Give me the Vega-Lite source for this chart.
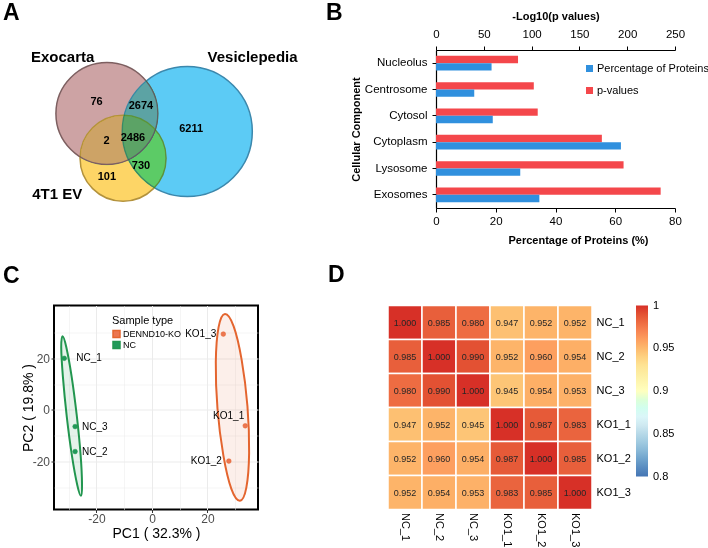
{
  "$schema": "https://vega.github.io/schema/vega-lite/v6.json",
  "padding": {"left": 2, "top": 1, "right": 0, "bottom": 0},
  "config": {
    "font": "Liberation Sans",
    "view": {"stroke": null},
    "axis": {"labelFont": "Liberation Sans", "titleFont": "Liberation Sans", "labelColor": "black", "titleColor": "black"},
    "legend": {"labelFont": "Liberation Sans", "titleFont": "Liberation Sans", "labelColor": "black", "titleColor": "black"},
    "title": {"font": "Liberation Sans", "fontSize": 23, "fontWeight": "bold", "anchor": "start", "frame": "group", "color": "black"}
  },
  "datasets": {
    "venn": [
      {"set": "Exocarta", "cx": 21.0, "cy": 59.8, "total": 5238},
      {"set": "Vesiclepedia", "cx": 52.9, "cy": 48.4, "total": 12101},
      {"set": "4T1 EV", "cx": 27.4, "cy": 31.5, "total": 3319}
    ],
    "vennCounts": [
      {"n": "76", "cx": 16.9, "cy": 67.1},
      {"n": "2674", "cx": 34.5, "cy": 64.6},
      {"n": "6211", "cx": 54.4, "cy": 50.2},
      {"n": "2", "cx": 20.9, "cy": 42.4},
      {"n": "2486", "cx": 31.3, "cy": 44.5},
      {"n": "730", "cx": 34.5, "cy": 26.6},
      {"n": "101", "cx": 21.0, "cy": 19.6}
    ],
    "vennNames": [
      {"name": "Exocarta", "cx": 3.45, "cy": 95.3},
      {"name": "Vesiclepedia", "cx": 78.8, "cy": 95.3},
      {"name": "4T1 EV", "cx": 1.3, "cy": 8.7}
    ],
    "go": [
      {"component": "Nucleolus", "series": "Percentage of Proteins", "value": 18.6},
      {"component": "Nucleolus", "series": "p-values", "value": 85.8},
      {"component": "Centrosome", "series": "Percentage of Proteins", "value": 12.8},
      {"component": "Centrosome", "series": "p-values", "value": 102.3},
      {"component": "Cytosol", "series": "Percentage of Proteins", "value": 19.0},
      {"component": "Cytosol", "series": "p-values", "value": 106.4},
      {"component": "Cytoplasm", "series": "Percentage of Proteins", "value": 61.9},
      {"component": "Cytoplasm", "series": "p-values", "value": 173.5},
      {"component": "Lysosome", "series": "Percentage of Proteins", "value": 28.2},
      {"component": "Lysosome", "series": "p-values", "value": 196.2},
      {"component": "Exosomes", "series": "Percentage of Proteins", "value": 34.6},
      {"component": "Exosomes", "series": "p-values", "value": 235.0}
    ],
    "pca": [
      {"sample": "NC_1", "type": "NC", "pc1": -31.6, "pc2": 20.0},
      {"sample": "NC_3", "type": "NC", "pc1": -27.7, "pc2": -6.5},
      {"sample": "NC_2", "type": "NC", "pc1": -27.7, "pc2": -16.2},
      {"sample": "KO1_3", "type": "DENND10-KO", "pc1": 25.7, "pc2": 29.4},
      {"sample": "KO1_1", "type": "DENND10-KO", "pc1": 33.6, "pc2": -6.2},
      {"sample": "KO1_2", "type": "DENND10-KO", "pc1": 27.7, "pc2": -19.9}
    ],
    "ellipse": [
      {"group": "NC", "i": 0, "pc1": -25.6, "pc2": -33.4},
      {"group": "NC", "i": 1, "pc1": -25.2, "pc2": -29.1},
      {"group": "NC", "i": 2, "pc1": -25.7, "pc2": -17.7},
      {"group": "NC", "i": 3, "pc1": -27.1, "pc2": -2.2},
      {"group": "NC", "i": 4, "pc1": -29.0, "pc2": 13.3},
      {"group": "NC", "i": 5, "pc1": -30.9, "pc2": 24.5},
      {"group": "NC", "i": 6, "pc1": -32.2, "pc2": 28.6},
      {"group": "NC", "i": 7, "pc1": -32.7, "pc2": 24.3},
      {"group": "NC", "i": 8, "pc1": -32.1, "pc2": 12.9},
      {"group": "NC", "i": 9, "pc1": -30.7, "pc2": -2.6},
      {"group": "NC", "i": 10, "pc1": -28.8, "pc2": -18.1},
      {"group": "NC", "i": 11, "pc1": -26.9, "pc2": -29.3},
      {"group": "KO", "i": 0, "pc1": 31.7, "pc2": -35.3},
      {"group": "KO", "i": 1, "pc1": 34.0, "pc2": -30.2},
      {"group": "KO", "i": 2, "pc1": 35.0, "pc2": -16.8},
      {"group": "KO", "i": 3, "pc1": 34.4, "pc2": 1.4},
      {"group": "KO", "i": 4, "pc1": 32.3, "pc2": 19.5},
      {"group": "KO", "i": 5, "pc1": 29.4, "pc2": 32.5},
      {"group": "KO", "i": 6, "pc1": 26.3, "pc2": 37.2},
      {"group": "KO", "i": 7, "pc1": 24.0, "pc2": 32.1},
      {"group": "KO", "i": 8, "pc1": 23.0, "pc2": 18.6},
      {"group": "KO", "i": 9, "pc1": 23.6, "pc2": 0.5},
      {"group": "KO", "i": 10, "pc1": 25.7, "pc2": -17.6},
      {"group": "KO", "i": 11, "pc1": 28.6, "pc2": -30.7}
    ],
    "corr": [
      {"row": "NC_1", "col": "NC_1", "r": 1.000}, {"row": "NC_1", "col": "NC_2", "r": 0.985}, {"row": "NC_1", "col": "NC_3", "r": 0.980}, {"row": "NC_1", "col": "KO1_1", "r": 0.947}, {"row": "NC_1", "col": "KO1_2", "r": 0.952}, {"row": "NC_1", "col": "KO1_3", "r": 0.952},
      {"row": "NC_2", "col": "NC_1", "r": 0.985}, {"row": "NC_2", "col": "NC_2", "r": 1.000}, {"row": "NC_2", "col": "NC_3", "r": 0.990}, {"row": "NC_2", "col": "KO1_1", "r": 0.952}, {"row": "NC_2", "col": "KO1_2", "r": 0.960}, {"row": "NC_2", "col": "KO1_3", "r": 0.954},
      {"row": "NC_3", "col": "NC_1", "r": 0.980}, {"row": "NC_3", "col": "NC_2", "r": 0.990}, {"row": "NC_3", "col": "NC_3", "r": 1.000}, {"row": "NC_3", "col": "KO1_1", "r": 0.945}, {"row": "NC_3", "col": "KO1_2", "r": 0.954}, {"row": "NC_3", "col": "KO1_3", "r": 0.953},
      {"row": "KO1_1", "col": "NC_1", "r": 0.947}, {"row": "KO1_1", "col": "NC_2", "r": 0.952}, {"row": "KO1_1", "col": "NC_3", "r": 0.945}, {"row": "KO1_1", "col": "KO1_1", "r": 1.000}, {"row": "KO1_1", "col": "KO1_2", "r": 0.987}, {"row": "KO1_1", "col": "KO1_3", "r": 0.983},
      {"row": "KO1_2", "col": "NC_1", "r": 0.952}, {"row": "KO1_2", "col": "NC_2", "r": 0.960}, {"row": "KO1_2", "col": "NC_3", "r": 0.954}, {"row": "KO1_2", "col": "KO1_1", "r": 0.987}, {"row": "KO1_2", "col": "KO1_2", "r": 1.000}, {"row": "KO1_2", "col": "KO1_3", "r": 0.985},
      {"row": "KO1_3", "col": "NC_1", "r": 0.952}, {"row": "KO1_3", "col": "NC_2", "r": 0.954}, {"row": "KO1_3", "col": "NC_3", "r": 0.953}, {"row": "KO1_3", "col": "KO1_1", "r": 0.983}, {"row": "KO1_3", "col": "KO1_2", "r": 0.985}, {"row": "KO1_3", "col": "KO1_3", "r": 1.000}
    ]
  },
  "spacing": 17.5,
  "resolve": {"scale": {"color": "independent", "size": "independent", "stroke": "independent"}, "legend": {"color": "independent", "stroke": "independent", "size": "independent"}},
  "vconcat": [
    {
      "bounds": "flush",
      "spacing": 130,
      "resolve": {"scale": {"color": "independent", "size": "independent", "stroke": "independent"}, "legend": {"color": "independent", "stroke": "independent", "size": "independent"}},
      "hconcat": [
        {
          "width": 252,
          "height": 158,
          "title": {"text": "A", "dx": -51, "offset": 25},
          "encoding": {
            "x": {"field": "cx", "type": "quantitative", "scale": {"domain": [0, 100], "nice": false, "zero": false}, "axis": null},
            "y": {"field": "cy", "type": "quantitative", "scale": {"domain": [0, 100], "nice": false, "zero": false}, "axis": null}
          },
          "layer": [
            {
              "data": {"name": "venn"},
              "mark": {"type": "point", "shape": "circle", "filled": true, "opacity": 1, "blend": "darken", "strokeWidth": 1.5},
              "encoding": {
                "size": {"field": "total", "type": "quantitative", "scale": {"type": "linear", "domain": [3319, 5238, 12101], "range": [7396, 10404, 16900]}, "legend": null},
                "color": {"field": "set", "type": "nominal", "scale": {"domain": ["Exocarta", "Vesiclepedia", "4T1 EV"], "range": ["#cda3a4", "#5ccbf5", "#fdd566"]}, "legend": null},
                "stroke": {"field": "set", "type": "nominal", "scale": {"domain": ["Exocarta", "Vesiclepedia", "4T1 EV"], "range": ["#7d5f60", "#3b88ad", "#b3923c"]}, "legend": null}
              }
            },
            {
              "data": {"name": "vennCounts"},
              "mark": {"type": "text", "fontSize": 11, "fontWeight": "bold", "color": "black", "align": "center", "baseline": "middle"},
              "encoding": {"text": {"field": "n"}}
            },
            {
              "data": {"name": "vennNames"},
              "mark": {"type": "text", "fontSize": 15, "fontWeight": "bold", "color": "black", "align": "center", "baseline": "middle"},
              "encoding": {"text": {"field": "name"}}
            }
          ]
        },
        {
          "width": 239,
          "height": 158,
          "title": {"text": "B", "dx": -110, "offset": -14},
          "data": {"name": "go"},
          "encoding": {
            "y": {"field": "component", "type": "nominal", "sort": ["Nucleolus", "Centrosome", "Cytosol", "Cytoplasm", "Lysosome", "Exosomes"], "scale": {"paddingInner": 0.445, "paddingOuter": 0.2225},
              "axis": {"title": "Cellular Component", "titleFontSize": 11, "titleFontWeight": "bold", "titlePadding": 3, "labelFontSize": 11.5, "domainColor": "black", "domainWidth": 1.2, "tickColor": "black", "tickSize": 4, "labelPadding": 5}},
            "yOffset": {"field": "series", "type": "nominal", "scale": {"domain": ["p-values", "Percentage of Proteins"]}},
            "color": {"field": "series", "type": "nominal", "scale": {"domain": ["Percentage of Proteins", "p-values"], "range": ["#3090de", "#f4474b"]},
              "legend": {"title": null, "orient": "none", "legendX": 148, "legendY": 13, "symbolType": "square", "symbolSize": 49, "labelFontSize": 11, "rowPadding": 10, "labelOffset": 2, "labelLimit": 114}}
          },
          "layer": [
            {
              "transform": [{"filter": "datum.series === 'p-values'"}],
              "mark": "bar",
              "encoding": {
                "x": {"field": "value", "type": "quantitative", "scale": {"domain": [0, 250], "nice": false},
                  "axis": {"orient": "top", "title": "-Log10(p values)", "values": [0, 50, 100, 150, 200, 250], "grid": false, "titleFontSize": 11, "titleFontWeight": "bold", "titlePadding": 7, "labelFontSize": 11.5, "domainColor": "black", "domainWidth": 1.2, "tickColor": "black", "tickSize": 4, "labelPadding": 6.5, "labelFlush": false}}
              }
            },
            {
              "transform": [{"filter": "datum.series === 'Percentage of Proteins'"}],
              "mark": "bar",
              "encoding": {
                "x": {"field": "value", "type": "quantitative", "scale": {"domain": [0, 80], "nice": false},
                  "axis": {"orient": "bottom", "title": "Percentage of Proteins (%)", "titleX": 142, "values": [0, 20, 40, 60, 80], "grid": false, "titleFontSize": 11, "titleFontWeight": "bold", "titlePadding": 8, "labelFontSize": 11.5, "domainColor": "black", "domainWidth": 1.2, "tickColor": "black", "tickSize": 4, "labelPadding": 3, "labelFlush": false}}
              }
            }
          ],
          "resolve": {"scale": {"x": "independent"}, "axis": {"x": "independent"}}
        }
      ]
    },
    {
      "bounds": "flush",
      "spacing": 130,
      "resolve": {"scale": {"color": "independent", "size": "independent", "stroke": "independent"}, "legend": {"color": "independent", "stroke": "independent", "size": "independent"}},
      "hconcat": [
        {
          "width": 204,
          "height": 204,
          "title": {"text": "C", "dx": -51, "offset": 18},
          "view": {"stroke": "black", "strokeWidth": 2},
          "encoding": {
            "x": {"field": "pc1", "type": "quantitative", "scale": {"domain": [-35.3, 38.2], "nice": false, "zero": false},
              "axis": {"title": "PC1 ( 32.3% )", "values": [-30, -20, -10, 0, 10, 20, 30], "labelExpr": "datum.value % 20 === 0 ? '' + datum.value : ''", "grid": true, "gridColor": "#ebebeb", "gridWidth": {"condition": {"test": "datum.value % 20 === 0", "value": 1}, "value": 0.5}, "domain": false, "tickColor": {"condition": {"test": "datum.value % 20 === 0", "value": "#333333"}, "value": "transparent"}, "tickSize": 3, "labelFontSize": 12, "labelColor": "#4d4d4d", "labelPadding": 1, "titleFontSize": 14, "titleFontWeight": "normal", "titlePadding": 2, "labelFlush": false}},
            "y": {"field": "pc2", "type": "quantitative", "scale": {"domain": [-38.7, 40.5], "nice": false, "zero": false},
              "axis": {"title": "PC2 ( 19.8% )", "values": [-30, -20, -10, 0, 10, 20, 30], "labelExpr": "datum.value % 20 === 0 ? '' + datum.value : ''", "grid": true, "gridColor": "#ebebeb", "gridWidth": {"condition": {"test": "datum.value % 20 === 0", "value": 1}, "value": 0.5}, "domain": false, "tickColor": {"condition": {"test": "datum.value % 20 === 0", "value": "#333333"}, "value": "transparent"}, "tickSize": 3, "labelFontSize": 12, "labelColor": "#4d4d4d", "labelPadding": 1.5, "titleFontSize": 14, "titleFontWeight": "normal", "titlePadding": -3, "labelFlush": false}}
          },
          "layer": [
            {
              "data": {"name": "ellipse"},
              "transform": [{"filter": "datum.group === 'NC'"}],
              "mark": {"type": "line", "interpolate": "cardinal-closed", "stroke": "#22964f", "strokeWidth": 2, "fill": "#22964f", "fillOpacity": 0.12},
              "encoding": {"order": {"field": "i", "type": "quantitative"}}
            },
            {
              "data": {"name": "ellipse"},
              "transform": [{"filter": "datum.group === 'KO'"}],
              "mark": {"type": "line", "interpolate": "cardinal-closed", "stroke": "#e4652f", "strokeWidth": 2, "fill": "#e4652f", "fillOpacity": 0.1},
              "encoding": {"order": {"field": "i", "type": "quantitative"}}
            },
            {
              "data": {"name": "pca"},
              "mark": {"type": "point", "shape": "circle", "filled": true, "size": 22, "opacity": 1, "strokeWidth": 0.5},
              "encoding": {
                "color": {"field": "type", "type": "nominal", "scale": {"domain": ["DENND10-KO", "NC"], "range": ["#ec7650", "#21995a"]},
                  "legend": {"title": "Sample type", "orient": "none", "legendX": 58, "legendY": 9, "titleFontSize": 11, "titleFontWeight": "normal", "titlePadding": 4, "labelFontSize": 9, "symbolType": "square", "symbolSize": 49, "symbolStrokeWidth": 1.5, "rowPadding": -2, "labelOffset": 2,
                    "encode": {"symbols": {"update": {"fillOpacity": {"value": 0.3}, "strokeWidth": {"value": 1.5}}}}}},
                "stroke": {"field": "type", "type": "nominal", "scale": {"domain": ["DENND10-KO", "NC"], "range": ["#e4652f", "#22964f"]},
                  "legend": {"title": "Sample type", "orient": "none", "legendX": 58, "legendY": 9, "titleFontSize": 11, "titleFontWeight": "normal", "titlePadding": 4, "labelFontSize": 9, "symbolType": "square", "symbolSize": 49, "symbolStrokeWidth": 1.5, "rowPadding": -2, "labelOffset": 2,
                    "encode": {"symbols": {"update": {"fillOpacity": {"value": 0.3}, "strokeWidth": {"value": 1.5}}}}}}
              }
            },
            {
              "data": {"name": "pca"},
              "transform": [{"filter": "datum.sample === 'NC_1'"}],
              "mark": {"type": "text", "fontSize": 10, "color": "black", "align": "left", "baseline": "middle", "dx": 12},
              "encoding": {"text": {"field": "sample"}}
            },
            {
              "data": {"name": "pca"},
              "transform": [{"filter": "datum.sample === 'NC_2' || datum.sample === 'NC_3'"}],
              "mark": {"type": "text", "fontSize": 10, "color": "black", "align": "left", "baseline": "middle", "dx": 7},
              "encoding": {"text": {"field": "sample"}}
            },
            {
              "data": {"name": "pca"},
              "transform": [{"filter": "datum.sample === 'KO1_3' || datum.sample === 'KO1_2'"}],
              "mark": {"type": "text", "fontSize": 10, "color": "black", "align": "right", "baseline": "middle", "dx": -7},
              "encoding": {"text": {"field": "sample"}}
            },
            {
              "data": {"name": "pca"},
              "transform": [{"filter": "datum.sample === 'KO1_1'"}],
              "mark": {"type": "text", "fontSize": 10, "color": "black", "align": "right", "baseline": "middle", "dx": -1, "dy": -10},
              "encoding": {"text": {"field": "sample"}}
            }
          ]
        },
        {
          "width": 204,
          "height": 204,
          "title": {"text": "D", "dx": -60, "offset": 18},
          "data": {"name": "corr"},
          "encoding": {
            "x": {"field": "col", "type": "nominal", "sort": ["NC_1", "NC_2", "NC_3", "KO1_1", "KO1_2", "KO1_3"],
              "axis": {"orient": "bottom", "title": null, "labelAngle": 90, "labelAlign": "left", "labelBaseline": "middle", "domain": false, "ticks": false, "labelFontSize": 11, "labelPadding": 3}},
            "y": {"field": "row", "type": "nominal", "sort": ["NC_1", "NC_2", "NC_3", "KO1_1", "KO1_2", "KO1_3"],
              "axis": {"orient": "right", "title": null, "domain": false, "ticks": false, "labelFontSize": 11, "labelPadding": 4}}
          },
          "layer": [
            {
              "mark": {"type": "rect", "stroke": "white", "strokeWidth": 1.5},
              "encoding": {
                "color": {"field": "r", "type": "quantitative",
                  "scale": {"domain": [0.8, 0.83333, 0.86667, 0.9, 0.93333, 0.96667, 1], "range": ["#4575b4", "#91bfdb", "#e0f3f8", "#ffffbf", "#fee090", "#fc8d59", "#d73027"]},
                  "legend": {"title": null, "orient": "none", "legendX": 248, "legendY": 0, "direction": "vertical", "gradientLength": 171, "gradientThickness": 12, "gradientStrokeWidth": 0, "values": [0.8, 0.85, 0.9, 0.95, 1], "labelExpr": "format(datum.value, '~g')", "labelFontSize": 11, "labelOffset": 5, "labelBaseline": "middle",
                    "encode": {"labels": {"update": {"baseline": {"value": "middle"}}}}}}
              }
            },
            {
              "mark": {"type": "text", "fontSize": 9, "color": "#262626"},
              "encoding": {"text": {"field": "r", "type": "quantitative", "format": ".3f"}}
            }
          ]
        }
      ]
    }
  ]
}
